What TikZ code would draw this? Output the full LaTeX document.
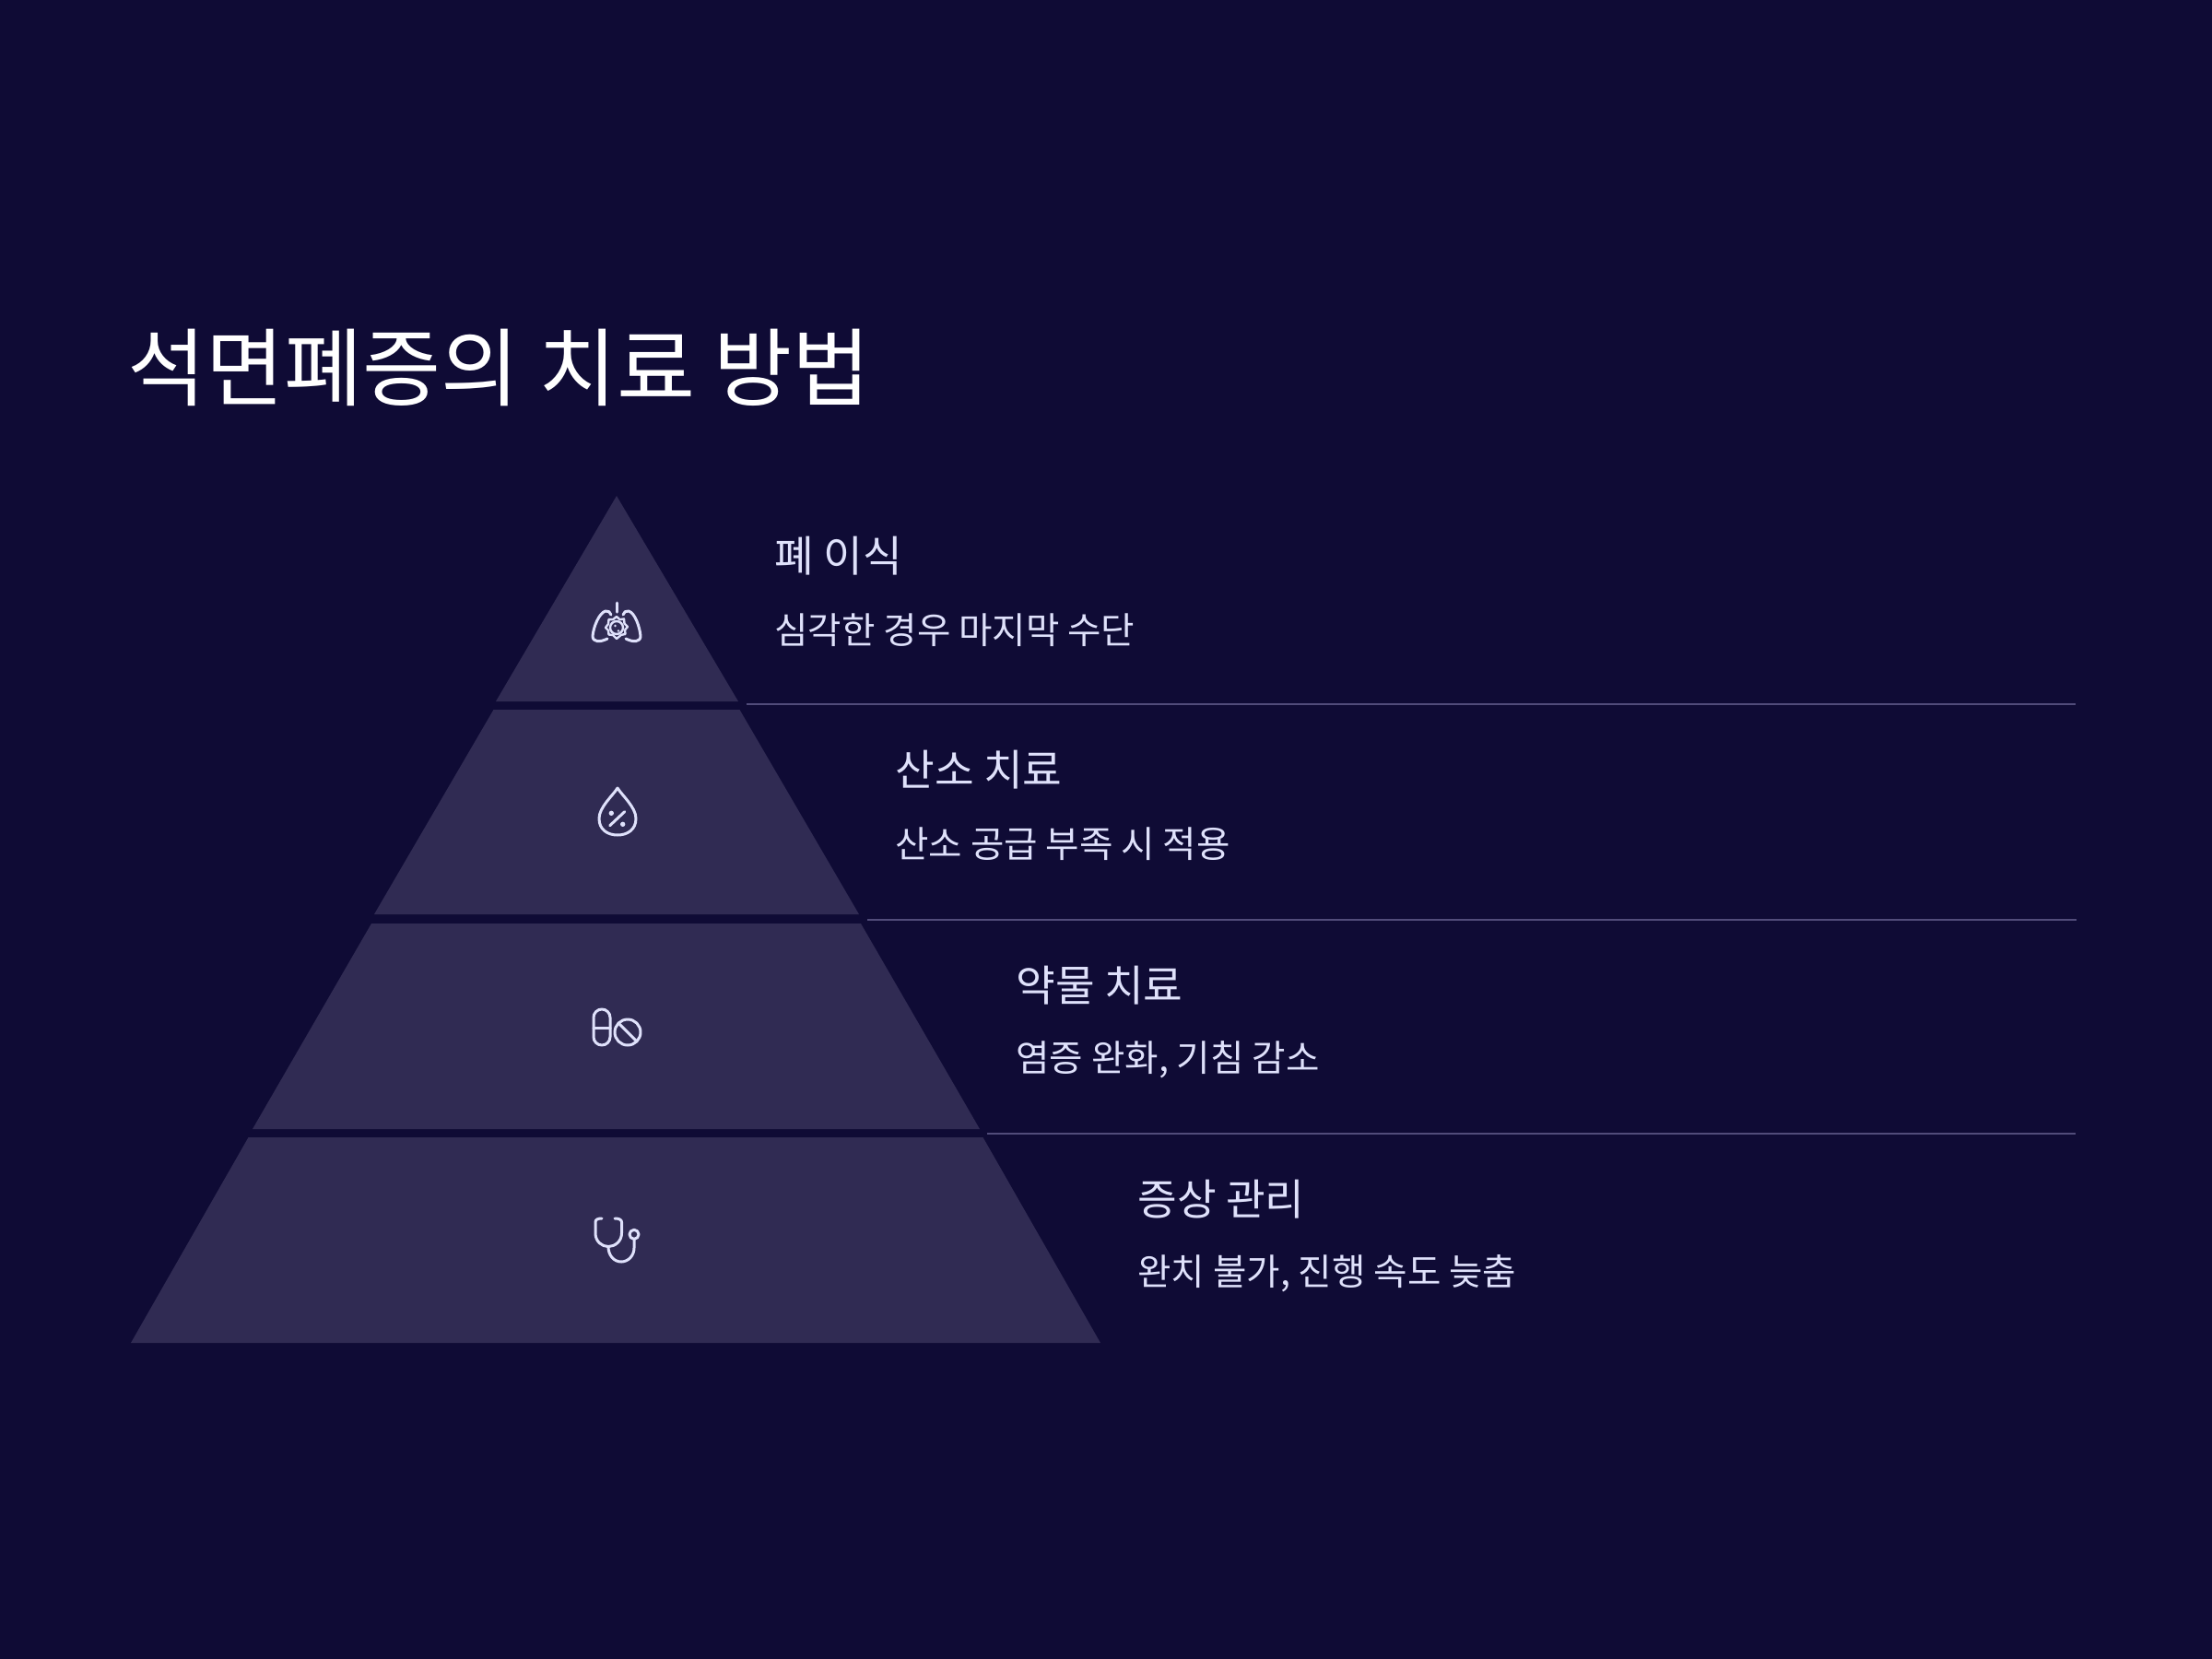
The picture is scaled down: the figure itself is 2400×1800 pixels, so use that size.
\documentclass[tikz,border=0pt]{standalone}
\usepackage{fontspec}
\usetikzlibrary{calc}
\setmainfont{Noto Sans CJK KR}
\definecolor{bgc}{HTML}{0F0B35}
\definecolor{tier}{HTML}{302B53}
\definecolor{rulec}{HTML}{514C7A}
\definecolor{ink}{HTML}{DFE1FB}
\tikzset{
  tierbox/.style={fill=tier,draw=none},
  rulel/.style={draw=rulec,line width=1},
  ttl/.style={anchor=base west,inner sep=0,text=white,font=\fontsize{46.2}{50}\selectfont},
  head/.style={anchor=base west,inner sep=0,text=ink,font=\fontsize{23.2}{26}\selectfont},
  sub/.style={anchor=base west,inner sep=0,text=ink,font=\fontsize{19.8}{22}\selectfont},
  ico/.style={draw=ink,line width=1.5,line cap=round,line join=round},
}
\begin{document}
\begin{tikzpicture}[x=0.5pt,y=-0.5pt]
\fill[bgc] (0,0) rectangle (2400,1800);
\useasboundingbox (0,0) rectangle (2400,1800);
% tiers
\fill[tierbox] (669,538) -- (801,761) -- (538,761) -- cycle;
\fill[tierbox] (535.5,770) -- (802.5,770) -- (932,992) -- (406,992) -- cycle;
\fill[tierbox] (403,1002) -- (934,1002) -- (1063,1225) -- (274,1225) -- cycle;
\fill[tierbox] (269.5,1234) -- (1066.5,1234) -- (1194,1457) -- (142,1457) -- cycle;
% rules
\coordinate (r1a) at (810,763.5); \coordinate (r1b) at (2252,763.5);
\coordinate (r2a) at (941,998); \coordinate (r2b) at (2253,998);
\coordinate (r3a) at (1071,1230); \coordinate (r3b) at (2252,1230);
\draw[rulel] (r1a) -- (r1b);
\draw[rulel] (r2a) -- (r2b);
\draw[rulel] (r3a) -- (r3b);
% text
\node[ttl] (title) at (138,433.5) {석면폐증의 치료 방법};
\node[head] (h1) at (840,620) {폐 이식};
\node[sub] (s1) at (840,698) {심각한 경우 마지막 수단};
\node[head] (h2) at (971,852) {산소 치료};
\node[sub] (s2) at (971,930) {산소 공급 부족 시 적용};
\node[head] (h3) at (1102,1086) {약물 치료};
\node[sub] (s3) at (1102,1162.5) {염증 완화, 기침 감소};
\node[head] (h4) at (1234,1318) {증상 관리};
\node[sub] (s4) at (1234,1394.5) {완치 불가, 진행 속도 늦춤};
% lungs icon
\begin{scope}[shift={(600,620)}]
\draw[ico] (69.5,34) -- (69.5,44);
\draw[ico] (63,47) .. controls (62,44) and (60,42.5) .. (57,43) .. controls (50,45) and (44,60) .. (43,70) .. controls (43,77) and (51,77) .. (59,73);
\draw[ico] (76,47) .. controls (77,44) and (79,42.5) .. (82,43) .. controls (89,45) and (94,60) .. (95,70) .. controls (95,77) and (87,77) .. (79,73);
\draw[ico,line width=1.2] (69,49) -- (72.5,52.2) -- (77,51.5) -- (77.5,56.5) -- (81,60) -- (78,63.5) -- (78.5,68) -- (74,68.8) -- (69,73) -- (65,69) -- (60.5,68.5) -- (60,64) -- (57,61) -- (60,57) -- (60.5,52) -- (65,52.2) -- cycle;
\draw[ico,line width=1.2] (69,61) circle (7);
\fill[ink] (67.5,59) circle (1.4) (71,64.5) circle (1.4);
\end{scope}
% drop icon
\begin{scope}[shift={(620,840)}]
\draw[ico] (50,15) .. controls (45,23) and (30,36) .. (30,48) .. controls (30,60) and (39,66) .. (50,66) .. controls (61,66) and (70,60) .. (70,48) .. controls (70,36) and (55,23) .. (50,15) -- cycle;
\draw[ico] (41.7,55.7) -- (57.7,40.7);
\fill[ink] (43.3,42.3) circle (2.7) (55.7,54.3) circle (2.7);
\end{scope}
% pill icon
\begin{scope}[shift={(620,1071)}]
\draw[ico] (24,33) arc (180:360:9) -- (42,54) arc (0:180:9) -- cycle;
\draw[ico] (24,44.5) -- (42,44.5);
\draw[ico] (61,49) circle (14);
\draw[ico] (51,39) -- (71,59);
\end{scope}
% stethoscope icon
\begin{scope}[shift={(620,1300)}]
\draw[ico] (33,22) .. controls (29,22) and (26,23) .. (26,26) -- (26,38) .. controls (26,47) and (33,52.5) .. (40,52.5) .. controls (47,52.5) and (54.5,47) .. (54.5,38) -- (54.5,26) .. controls (54.5,23) and (51,22) .. (47,22);
\draw[ico] (40,52.5) .. controls (40,62) and (46,69) .. (54,69) .. controls (62,69) and (68,62) .. (68,54) -- (68,45);
\draw[ico] (68,39.3) circle (5);
\end{scope}
\end{tikzpicture}
\end{document}
